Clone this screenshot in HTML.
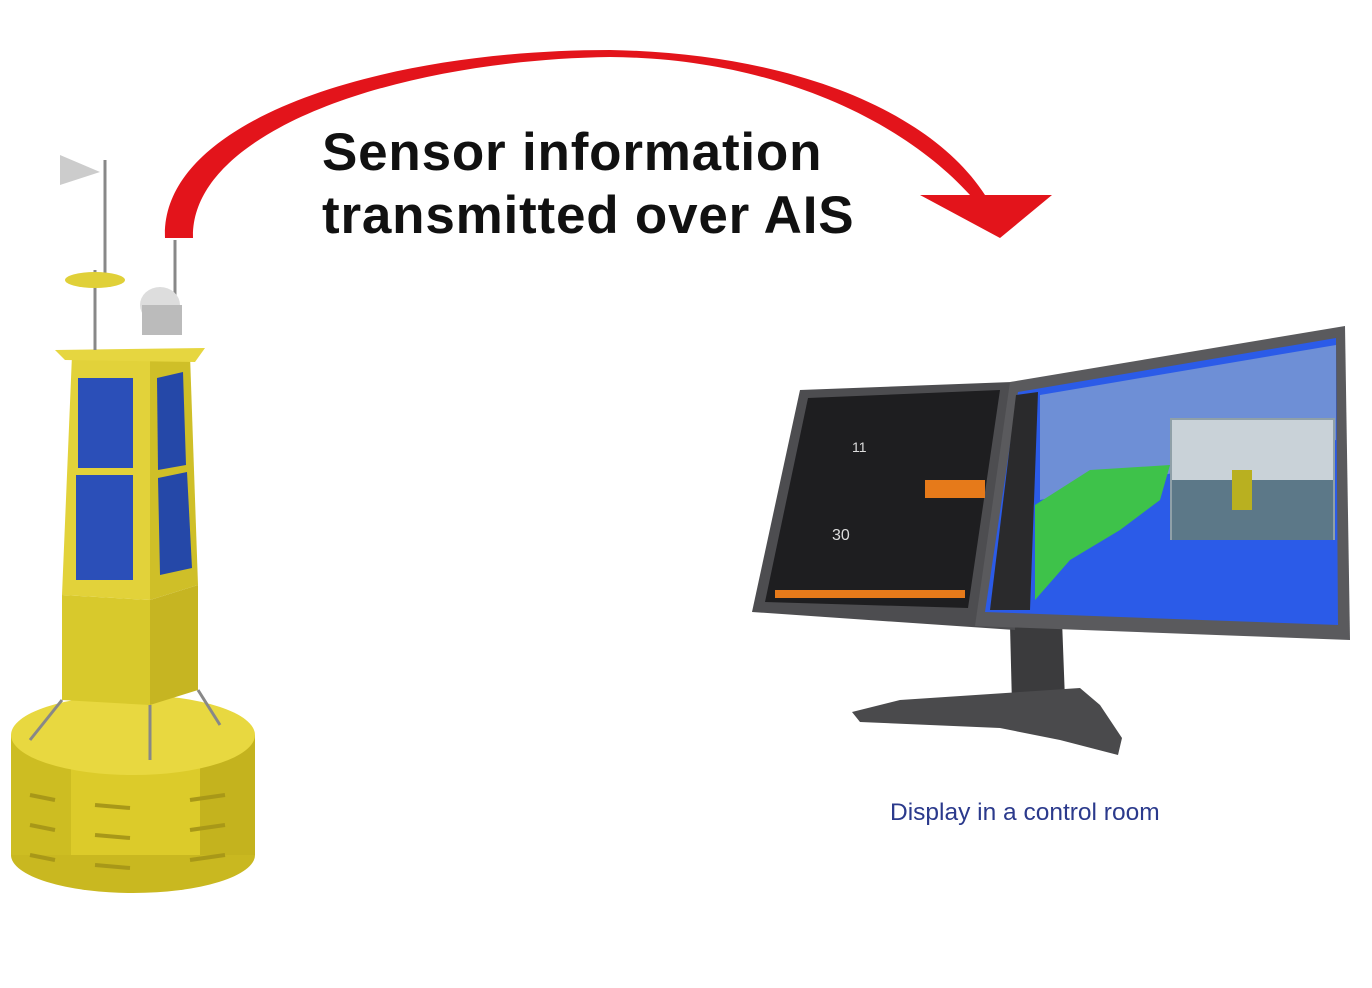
<!DOCTYPE html>
<html><head><meta charset="utf-8"><style>
html,body{margin:0;padding:0;background:#fff;width:1372px;height:988px;overflow:hidden}
svg{display:block}
</style></head><body>
<svg width="1372" height="988" viewBox="0 0 1372 988" xmlns="http://www.w3.org/2000/svg">
<path d="M165,238 C160,120 380,50 610,50 C790,53 930,110 985,195 L1052,195 L1000,238 L920,195 L970,195 C900,118 770,58 610,57 C400,60 190,130 193,238 Z" fill="#e3141b"/>
<text x="322" y="170" font-family="Liberation Sans, sans-serif" font-weight="bold" font-size="53" letter-spacing="0.8" fill="#111">Sensor information</text>
<text x="322" y="233" font-family="Liberation Sans, sans-serif" font-weight="bold" font-size="53" letter-spacing="0.8" fill="#111">transmitted over AIS</text>

<g>
<ellipse cx="133" cy="855" rx="122" ry="38" fill="#c9b820"/>
<rect x="11" y="735" width="244" height="120" fill="#dccb2a"/>
<rect x="11" y="735" width="60" height="120" fill="#cdbd22"/>
<rect x="200" y="735" width="55" height="120" fill="#c4b31e"/>
<ellipse cx="133" cy="735" rx="122" ry="40" fill="#e8d840"/>
<g stroke="#a89818" stroke-width="4">
<line x1="30" y1="795" x2="55" y2="800"/><line x1="30" y1="825" x2="55" y2="830"/><line x1="30" y1="855" x2="55" y2="860"/>
<line x1="95" y1="805" x2="130" y2="808"/><line x1="95" y1="835" x2="130" y2="838"/><line x1="95" y1="865" x2="130" y2="868"/>
<line x1="190" y1="800" x2="225" y2="795"/><line x1="190" y1="830" x2="225" y2="825"/><line x1="190" y1="860" x2="225" y2="855"/>
</g>
<polygon points="62,595 150,600 150,705 62,700" fill="#d8c92c"/>
<polygon points="150,600 198,585 198,690 150,705" fill="#c6b522"/>
<polygon points="72,355 150,360 150,600 62,595" fill="#e2d23a"/>
<polygon points="150,360 190,355 198,585 150,600" fill="#cfbf28"/>
<rect x="78" y="378" width="55" height="90" fill="#2b4fb8"/>
<rect x="76" y="475" width="57" height="105" fill="#2b4fb8"/>
<polygon points="157,378 183,372 186,465 158,470" fill="#2548a8"/>
<polygon points="158,478 187,472 192,568 160,575" fill="#2548a8"/>
<polygon points="55,350 205,348 195,362 65,360" fill="#e6d640"/>
<g stroke="#888" stroke-width="3" fill="none">
<line x1="62" y1="700" x2="30" y2="740"/><line x1="150" y1="705" x2="150" y2="760"/><line x1="198" y1="690" x2="220" y2="725"/>
<line x1="95" y1="350" x2="95" y2="270"/><line x1="105" y1="280" x2="105" y2="160"/><line x1="175" y1="300" x2="175" y2="240"/>
</g>
<ellipse cx="95" cy="280" rx="30" ry="8" fill="#e0d038"/>
<ellipse cx="160" cy="305" rx="20" ry="18" fill="#ddd"/>
<rect x="142" y="305" width="40" height="30" fill="#bbb"/>
<polygon points="60,155 100,172 60,185" fill="#ccc"/>
</g>

<polygon points="1010,625 1062,620 1065,700 1012,705" fill="#3b3b3d"/>
<polygon points="852,712 900,700 1080,688 1100,705 1122,738 1118,755 1060,740 1000,728 860,722" fill="#4a4a4c"/>
<polygon points="752,612 800,390 1012,382 1015,630" fill="#4d4d50"/>
<polygon points="975,626 1010,382 1345,326 1350,640" fill="#5a5a5d"/>
<polygon points="765,602 808,398 1000,390 968,608" fill="#1e1e20"/>
<rect x="925" y="480" width="60" height="18" fill="#e67a1a"/>
<rect x="775" y="590" width="190" height="8" fill="#e67a1a"/>
<text x="832" y="540" font-family="Liberation Sans, sans-serif" font-size="16" fill="#ddd">30</text>
<text x="852" y="452" font-family="Liberation Sans, sans-serif" font-size="14" fill="#ddd">11</text>
<polygon points="985,612 1018,392 1336,338 1338,625" fill="#2b5be8"/>
<polygon points="1040,395 1336,345 1336,440 1040,500" fill="#6e8fd6"/>
<polygon points="1035,505 1090,470 1170,465 1160,500 1120,530 1070,560 1035,600" fill="#3ec24a"/>
<polygon points="990,610 1016,395 1038,392 1030,610" fill="#2a2a2c"/>
<rect x="1170" y="418" width="165" height="122" fill="#8fa0a8"/>
<rect x="1172" y="420" width="161" height="60" fill="#c9d2d8"/>
<rect x="1172" y="480" width="161" height="60" fill="#5c7888"/>
<rect x="1232" y="470" width="20" height="40" fill="#b9b020"/>
<text x="890" y="820" font-family="Liberation Sans, sans-serif" font-size="24.5" fill="#2b3a8c">Display in a control room</text>
</svg>
</body></html>
